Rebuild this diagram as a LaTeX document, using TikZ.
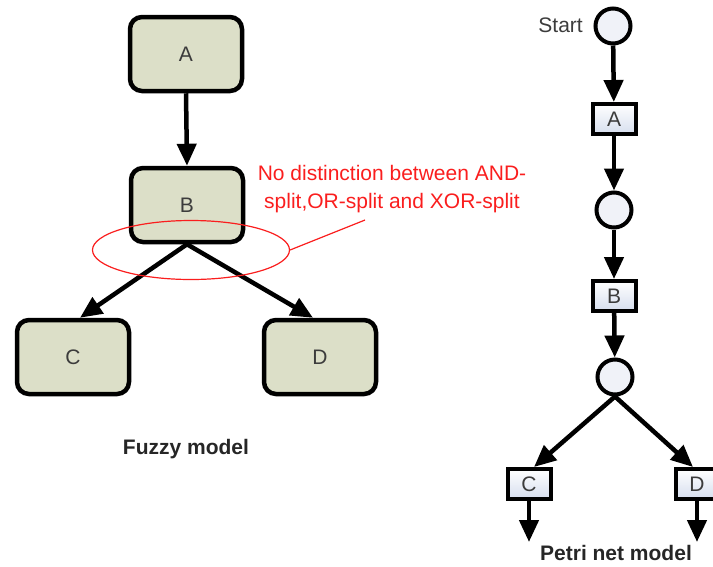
\documentclass[tikz,border=0pt]{standalone}
\usepackage{fontspec}
\setmainfont{Liberation Sans}
\usetikzlibrary{arrows.meta,shapes.geometric}
\definecolor{fuzzyfill}{RGB}{220,223,200}
\definecolor{petrifill}{RGB}{214,222,238}
\definecolor{placefill}{RGB}{240,242,248}
\definecolor{labelgray}{RGB}{60,60,60}
\definecolor{notered}{RGB}{250,30,30}
\newcommand\mylbl{\fontsize{21}{28}\selectfont}
\begin{document}
\begin{tikzpicture}[x=1pt,y=-1pt,
  fbox/.style={draw, line width=4.5pt, rounded corners=12pt, fill=fuzzyfill, minimum width=112pt, minimum height=74pt, text=labelgray, font=\mylbl},
  tbox/.style={draw, line width=4pt, top color=white, bottom color=petrifill, minimum width=43pt, minimum height=30pt, inner sep=0pt, text=labelgray, font=\mylbl},
  place/.style={circle, draw, line width=4pt, fill=placefill, minimum size=35pt, inner sep=0pt},
  arr/.style={line width=4.5pt, -{Triangle[length=22pt,width=19pt]}},
  caption/.style={font=\bfseries\mylbl, text=black!85},
  note/.style={text=notered, font=\mylbl, align=center, inner sep=0pt}]
\useasboundingbox (0,0) rectangle (713,566);
% Fuzzy model
\node[fbox] (A) at (186,54) {A};
\node[fbox] (B) at (187,205) {B};
\node[fbox] (C) at (73,357) {C};
\node[fbox] (D) at (320,357) {D};
\draw[arr] (A.south) -- (B.north);
\draw[arr] (B.south) -- ([xshift=7pt]C.north);
\draw[arr] (B.south) -- ([xshift=-7pt]D.north);
\node[caption] (fz) at (186,449) {Fuzzy model};
% annotation
\node[draw=notered, line width=1.2pt, ellipse, minimum width=197pt, minimum height=59pt, inner sep=0pt] (ell) at (191,250) {};
\coordinate (callout) at (365,220);
\draw[notered, line width=1.2pt] (ell.east) -- (callout);
\node[note] (txt) at (392,189) {No distinction between AND-\\split,OR-split and XOR-split};
% Petri net
\node[place] (p1) at (613,26) {};
\node[text=labelgray, font=\mylbl, anchor=east, inner sep=0pt] (start) at (583,25) {Start};
\node[tbox] (tA) at (614,119) {A};
\node[place] (p2) at (614,210) {};
\node[tbox] (tB) at (614,296) {B};
\node[place] (p3) at (615,377) {};
\node[tbox] (tC) at (529,484) {C};
\node[tbox] (tD) at (697,484) {D};
\coordinate (eC) at (529,542);
\coordinate (eD) at (697,542);
\draw[arr] (p1) -- (tA);
\draw[arr] (tA) -- (p2);
\draw[arr] (p2) -- (tB);
\draw[arr] (tB) -- (p3);
\draw[arr] (p3.south) -- ([xshift=5pt]tC.north);
\draw[arr] (p3.south) -- ([xshift=-4pt]tD.north);
\draw[arr] (tC) -- (eC);
\draw[arr] (tD) -- (eD);
\node[caption] (pn) at (616,553) {Petri net model};
\end{tikzpicture}
\end{document}
